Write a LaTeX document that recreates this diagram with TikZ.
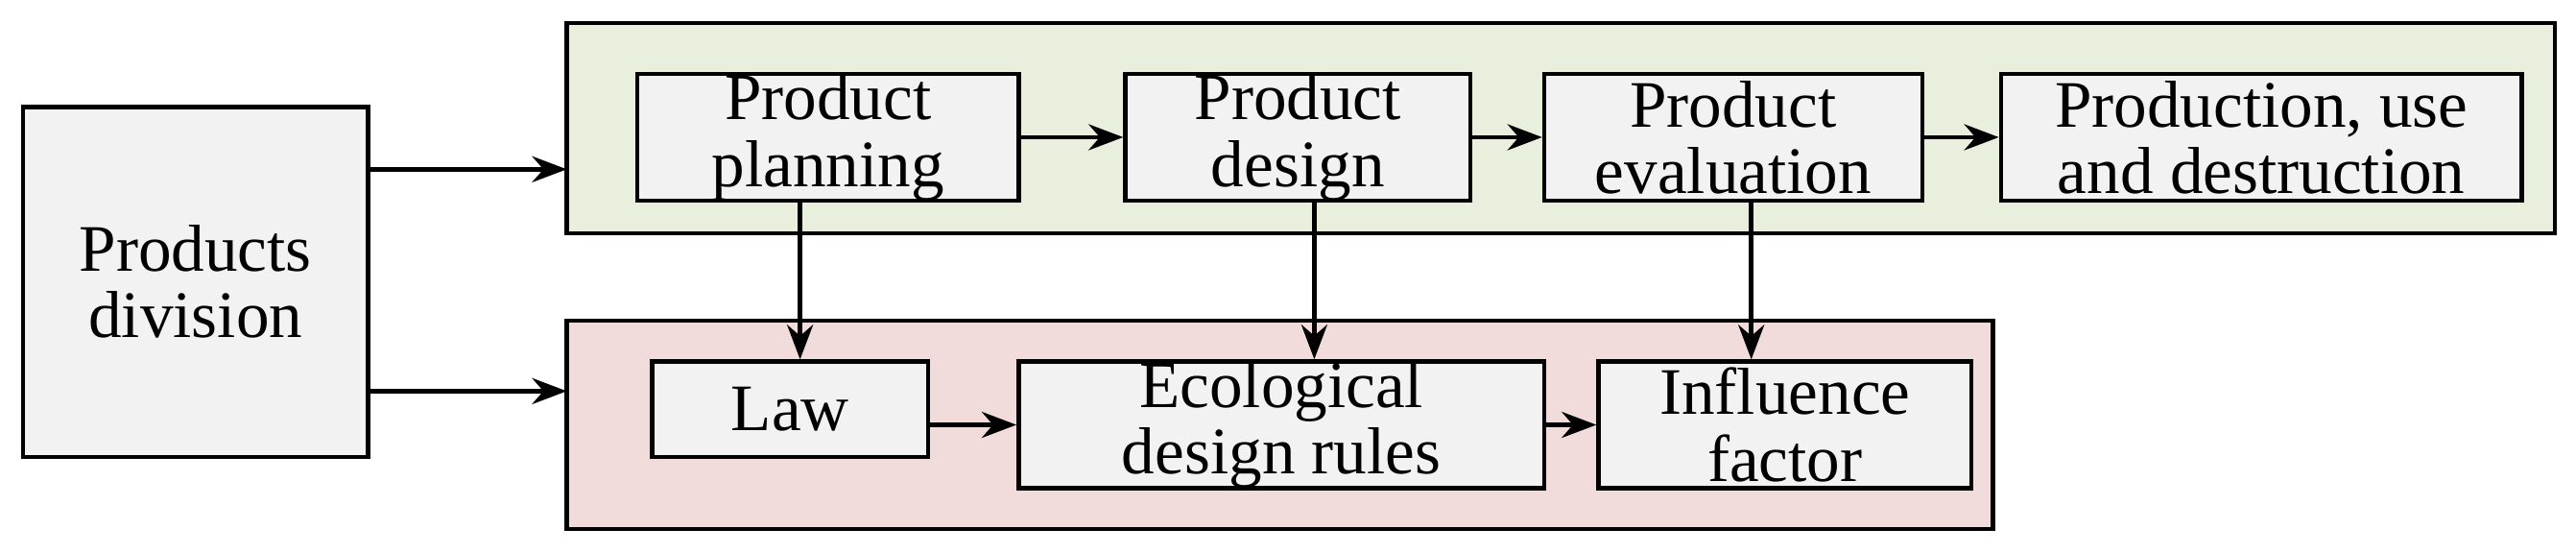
\documentclass[tikz,border=0pt]{standalone}
\usepackage{fontspec}
\setmainfont{Liberation Serif}
\usetikzlibrary{arrows.meta}
\begin{document}
\begin{tikzpicture}[x=0.02cm,y=-0.02cm,
 box/.style={draw,line width=1.5pt,fill=gray!10,inner sep=0pt,align=center,font=\fontsize{23}{23}\selectfont},
 arr/.style={-{Stealth[length=12pt,width=9pt]},line width=1.5pt}]
\useasboundingbox (0,0) rectangle (1568,336);
\node[draw,line width=1.5pt,fill={rgb,255:red,233;green,239;blue,221},minimum width=1210*0.02cm,minimum height=128*0.02cm] (G) at (950,78) {};
\node[draw,line width=1.5pt,fill={rgb,255:red,242;green,220;blue,219},minimum width=868*0.02cm,minimum height=127*0.02cm] (P) at (779,258.5) {};
\node[box,minimum width=210*0.02cm,minimum height=213*0.02cm] (D) at (119,171.5) {Products\\division};
\node[box,minimum width=232*0.02cm,minimum height=77*0.02cm] (a) at (504,83.5) {Product\\planning};
\node[box,minimum width=210*0.02cm,minimum height=77*0.02cm] (b) at (790,83.5) {Product\\design};
\node[box,minimum width=230*0.02cm,minimum height=77*0.02cm] (c) at (1055,83.5) {Product\\evaluation};
\node[box,minimum width=317*0.02cm,minimum height=77*0.02cm] (d) at (1376.5,83.5) {Production, use\\and destruction};
\node[box,minimum width=168*0.02cm,minimum height=58*0.02cm] (l) at (481,249) {Law};
\node[box,minimum width=320*0.02cm,minimum height=77*0.02cm] (e) at (780,258.5) {Ecological\\design rules};
\node[box,minimum width=227*0.02cm,minimum height=77*0.02cm] (f) at (1086.5,258.5) {Influence\\factor};
\coordinate (g1) at (345,103); \coordinate (p1) at (345,238);
\draw[arr] (D.east|-g1) -- (g1);
\draw[arr] (D.east|-p1) -- (p1);
\draw[arr] (a.east) -- (b.west);
\draw[arr] (b.east) -- (c.west);
\draw[arr] (c.east) -- (d.west);
\draw[arr] (l.east|-e) -- (e.west);
\draw[arr] (e.east) -- (f.west);
\draw[arr] (a.south-|487,0) -- (l.north-|487,0);
\draw[arr] (b.south-|800,0) -- (e.north-|800,0);
\draw[arr] (c.south-|1066,0) -- (f.north-|1066,0);
\end{tikzpicture}
\end{document}
